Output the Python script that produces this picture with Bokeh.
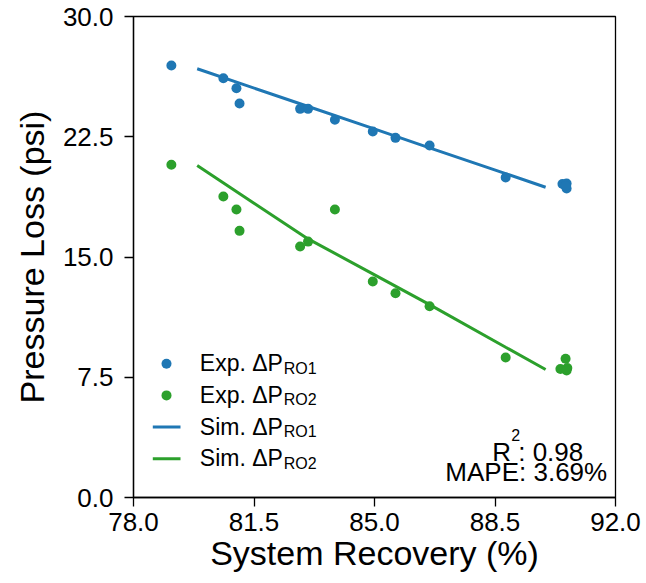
import numpy as np
from bokeh.plotting import figure
from bokeh.models import FixedTicker, Range1d, PrintfTickFormatter
from bokeh.core.properties import value
from bokeh.embed import file_html
from bokeh.resources import INLINE

# ---------------- data ----------------
exp_ro1_x = [79.10, 80.61, 80.99, 81.08, 82.84, 83.07, 83.85, 84.95, 85.61, 86.60, 88.81, 90.46, 90.58, 90.58, 90.55]
exp_ro1_y = [26.94, 26.15, 25.53, 24.57, 24.24, 24.24, 23.56, 22.83, 22.43, 21.95, 19.96, 19.55, 19.58, 19.27, 19.43]

exp_ro2_x = [79.10, 80.61, 80.99, 81.08, 82.84, 83.07, 83.85, 84.95, 85.61, 86.60, 88.81, 90.55, 90.40, 90.60, 90.58]
exp_ro2_y = [20.75, 18.77, 17.96, 16.63, 15.65, 15.96, 17.96, 13.47, 12.74, 11.93, 8.73, 8.65, 8.02, 8.08, 7.92]

sim_ro1_x = [79.85, 82.84, 84.95, 86.60, 88.81, 89.97]
sim_ro1_y = [26.74, 24.56, 23.02, 21.81, 20.20, 19.35]

sim_ro2_x = [79.85, 81.50, 83.07, 84.95, 86.60, 88.81, 89.97]
sim_ro2_y = [20.70, 18.36, 16.13, 13.95, 12.03, 9.37, 7.98]

x_ticks = [78.0, 81.5, 85.0, 88.5, 92.0]
y_ticks = [0.0, 7.5, 15.0, 22.5, 30.0]

legend_main = ["Exp. \u0394P", "Exp. \u0394P", "Sim. \u0394P", "Sim. \u0394P"]
legend_sub = ["RO1", "RO2", "RO1", "RO2"]
r2_value = ": 0.98"
mape_text = "MAPE: 3.69%"

# ---------------- style ----------------
BLUE = "#1f77b4"
GREEN = "#2ca02c"
FONT = "Liberation Sans"
X0, X1 = 78.0, 92.0
Y0, Y1 = 0.0, 30.0
FW, FH = 482, 481
PX_X = FW / (X1 - X0)
PX_Y = FH / (Y1 - Y0)
TXT_FIX = 9.0  # pixels to lift text baselines

p = figure(frame_width=FW, frame_height=FH,
           x_range=Range1d(X0, X1), y_range=Range1d(Y0, Y1),
           output_backend="svg", toolbar_location=None, title=None,
           min_border_left=133, min_border_top=16, min_border_right=28,
           min_border_bottom=0, background_fill_color="white",
           border_fill_color="white")

p.xgrid.visible = False
p.ygrid.visible = False
p.outline_line_color = "black"
p.outline_line_width = 1.3
p.outline_line_alpha = 1.0

for ax in (p.xaxis[0], p.yaxis[0]):
    ax.major_label_text_font = FONT
    ax.major_label_text_font_size = "26px"
    ax.major_label_text_color = "black"
    ax.axis_label_text_font = FONT
    ax.axis_label_text_font_size = "34px"
    ax.axis_label_text_font_style = "normal"
    ax.axis_label_text_color = "black"
    ax.major_tick_out = 9
    ax.major_tick_in = 0
    ax.minor_tick_out = 0
    ax.minor_tick_in = 0
    ax.axis_line_width = 1.3
    ax.major_tick_line_width = 1.3
    ax.axis_line_color = "black"
    ax.major_tick_line_color = "black"
    ax.formatter = PrintfTickFormatter(format="%.1f")

p.xaxis[0].ticker = FixedTicker(ticks=x_ticks)
p.yaxis[0].ticker = FixedTicker(ticks=y_ticks)
p.xaxis[0].axis_label = "System Recovery (%)"
p.yaxis[0].axis_label = "Pressure Loss (psi)"
p.xaxis[0].major_label_standoff = 6
p.xaxis[0].axis_label_standoff = 0
p.yaxis[0].major_label_standoff = 11
p.yaxis[0].axis_label_standoff = 9

# ---------------- series ----------------
p.line(sim_ro1_x, sim_ro1_y, line_color=BLUE, line_width=3)
p.line(sim_ro2_x, sim_ro2_y, line_color=GREEN, line_width=3)
p.scatter(exp_ro1_x, exp_ro1_y, size=10, fill_color=BLUE, line_color=BLUE, line_width=0)
p.scatter(exp_ro2_x, exp_ro2_y, size=10, fill_color=GREEN, line_color=GREEN, line_width=0)

# ---------------- legend (drawn by hand for subscripts) ----------------
LEG_MARK_X = X0 + 33.0 / PX_X
LEG_SEG_X0 = X0 + 19.3 / PX_X
LEG_SEG_X1 = X0 + 47.0 / PX_X
LEG_TEXT_X = X0 + 66.3 / PX_X
LEG_BASE0 = Y1 - (371.7 - 16) / PX_Y
LEG_STEP = 31.7 / PX_Y
LEG_SYM = 8.5 / PX_Y
SUB_DROP = 5.0 / PX_Y
FIX = TXT_FIX / PX_Y
leg_base = [LEG_BASE0 - i * LEG_STEP for i in range(4)]
leg_colors = [BLUE, GREEN, BLUE, GREEN]

p.scatter([LEG_MARK_X] * 2, [b + LEG_SYM for b in leg_base[:2]], size=10,
          fill_color=leg_colors[:2], line_color=leg_colors[:2], line_width=0)
p.segment(x0=[LEG_SEG_X0] * 2, x1=[LEG_SEG_X1] * 2,
          y0=[b + LEG_SYM for b in leg_base[2:]], y1=[b + LEG_SYM for b in leg_base[2:]],
          line_color=leg_colors[2:], line_width=3)
p.text(x=[LEG_TEXT_X] * 4, y=[b + FIX for b in leg_base], text=legend_main,
       text_font=value(FONT), text_font_size="23px", text_color="black",
       text_align="left", text_baseline="alphabetic")
p.text(x=[LEG_TEXT_X] * 4, y=[b - SUB_DROP + FIX for b in leg_base], text=legend_sub,
       x_offset=84, text_font=value(FONT), text_font_size="16px", text_color="black",
       text_align="left", text_baseline="alphabetic")

# ---------------- R^2 / MAPE annotation ----------------
R_X = X0 + (491.7 - 133) / PX_X
R_BASE = Y1 - (460 - 16) / PX_Y + FIX
SUP_BASE = Y1 - (443 - 16) / PX_Y + FIX
M_X = X0 + (606.7 - 133) / PX_X
M_BASE = Y1 - (480 - 16) / PX_Y + FIX

p.text(x=[R_X], y=[R_BASE], text=["R"], text_font=value(FONT), text_font_size="26px",
       text_color="black", text_align="left", text_baseline="alphabetic")
p.text(x=[R_X], y=[SUP_BASE], text=["2"], x_offset=19, text_font=value(FONT),
       text_font_size="16px", text_color="black", text_align="left", text_baseline="alphabetic")
p.text(x=[R_X], y=[R_BASE], text=[r2_value], x_offset=26, text_font=value(FONT),
       text_font_size="26px", text_color="black", text_align="left", text_baseline="alphabetic")
p.text(x=[M_X], y=[M_BASE], text=[mape_text], text_font=value(FONT), text_font_size="26px",
       text_color="black", text_align="right", text_baseline="alphabetic")

open("out.html", "w").write(file_html(p, INLINE))
